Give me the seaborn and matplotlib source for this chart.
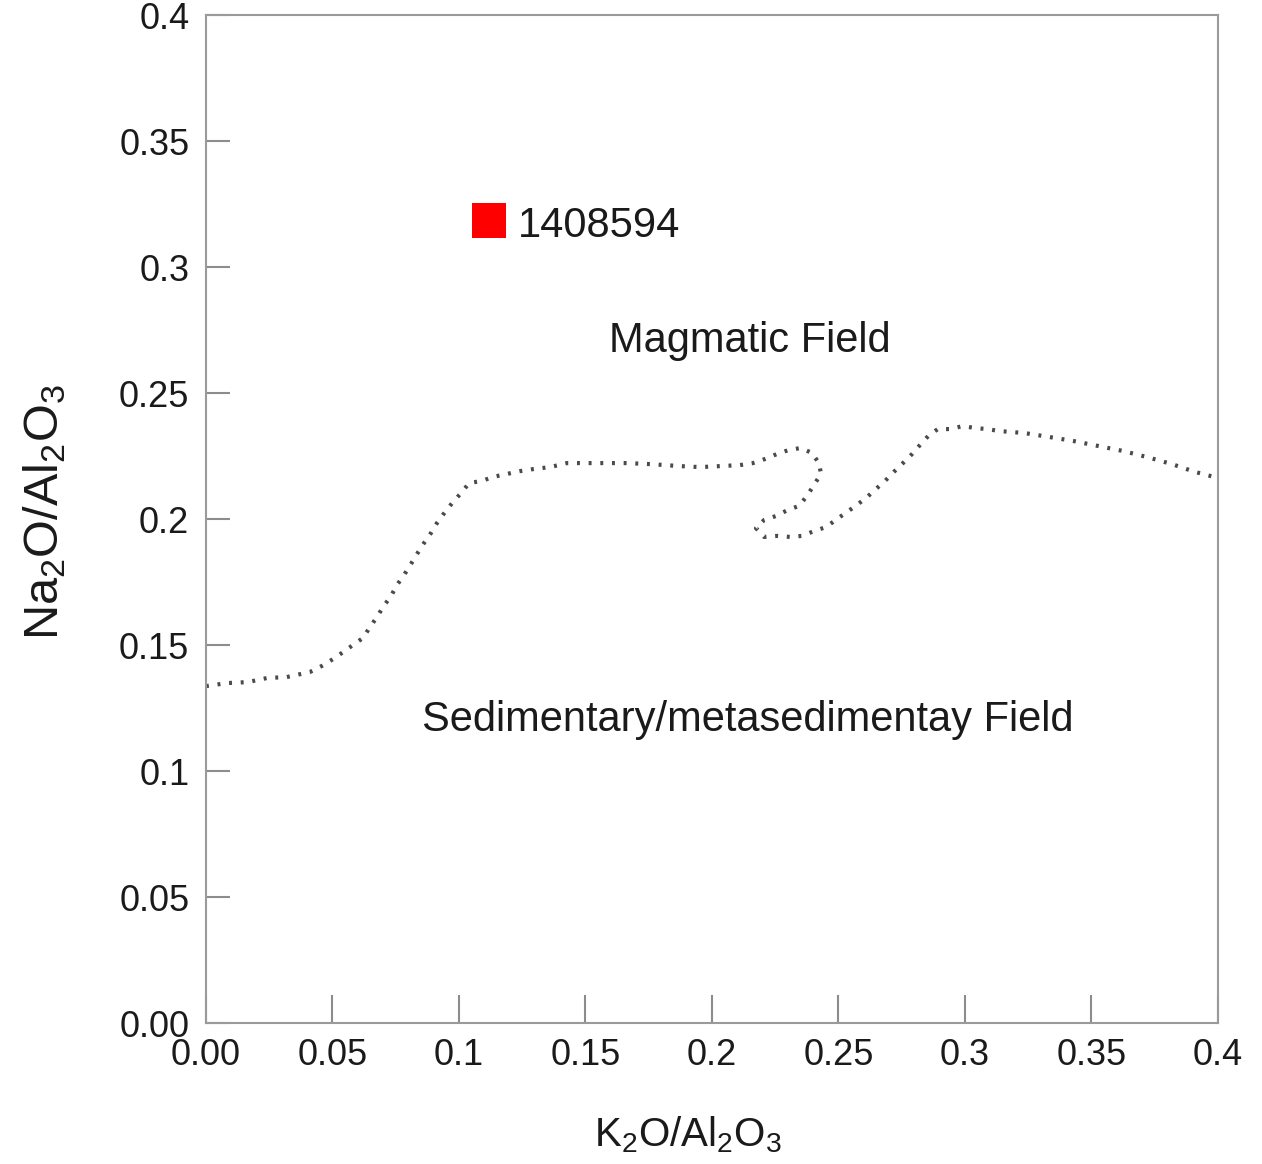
import matplotlib
matplotlib.use("Agg")
import matplotlib.pyplot as plt
import pandas as pd
import seaborn as sns


# boundary between the magmatic and sedimentary fields
boundary_x = [
    0.0, 0.0083, 0.0166, 0.0241, 0.0320, 0.0411, 0.0458, 0.0502, 0.0542, 0.0581,
    0.0621, 0.0648, 0.0676, 0.0700, 0.0731, 0.0755, 0.0783, 0.0810, 0.0834, 0.0862,
    0.0889, 0.0913, 0.0945, 0.0976, 0.1012, 0.1040, 0.1091, 0.1134, 0.1190, 0.1241,
    0.1292, 0.1360, 0.1427, 0.1506, 0.1585, 0.1664, 0.1755, 0.1874, 0.1953, 0.2032,
    0.2111, 0.2162, 0.2209, 0.2257, 0.2304, 0.2352, 0.2395, 0.2423, 0.2431, 0.2403,
    0.2375, 0.2344, 0.2300, 0.2253, 0.2206, 0.2174, 0.2206, 0.2257, 0.2308, 0.2356,
    0.2403, 0.2451, 0.2494, 0.2534, 0.2573, 0.2613, 0.2648, 0.2684, 0.2719, 0.2755,
    0.2791, 0.2826, 0.2858, 0.2893, 0.2941, 0.2992, 0.3040, 0.3087, 0.3138, 0.3237,
    0.3336, 0.3427, 0.3526, 0.3625, 0.3719, 0.3818, 0.3909, 0.4,
]
boundary_y = [
    0.1337, 0.1349, 0.1353, 0.1369, 0.1373, 0.1393, 0.1417, 0.1444, 0.1472, 0.1500,
    0.1528, 0.1571, 0.1611, 0.1651, 0.1694, 0.1738, 0.1778, 0.1821, 0.1861, 0.1905,
    0.1944, 0.1984, 0.2028, 0.2067, 0.2107, 0.2143, 0.2151, 0.2167, 0.2179, 0.2190,
    0.2198, 0.2206, 0.2222, 0.2222, 0.2222, 0.2222, 0.2218, 0.2210, 0.2206, 0.2210,
    0.2214, 0.2222, 0.2238, 0.2258, 0.2274, 0.2282, 0.2262, 0.2222, 0.2179, 0.2135,
    0.2091, 0.2052, 0.2036, 0.2012, 0.1996, 0.1964, 0.1929, 0.1933, 0.1929, 0.1933,
    0.1952, 0.1968, 0.2000, 0.2028, 0.2056, 0.2087, 0.2119, 0.2151, 0.2187, 0.2222,
    0.2258, 0.2298, 0.2333, 0.2357, 0.2357, 0.2369, 0.2361, 0.2357, 0.2349, 0.2341,
    0.2325, 0.2310, 0.2290, 0.2270, 0.2246, 0.2218, 0.2187, 0.2163,
]

sample_names = ["1408594"]
sample_k2o_al2o3 = [0.1119]
sample_na2o_al2o3 = [0.3183]

tick_values = [0.0, 0.05, 0.1, 0.15, 0.2, 0.25, 0.3, 0.35, 0.4]
tick_labels = ["0.00", "0.05", "0.1", "0.15", "0.2", "0.25", "0.3", "0.35", "0.4"]

sns.set_theme(style="white")
plt.rcParams["font.family"] = ["Liberation Sans", "DejaVu Sans"]
plt.rcParams["mathtext.fontset"] = "custom"
plt.rcParams["mathtext.rm"] = "Liberation Sans"
plt.rcParams["mathtext.it"] = "Liberation Sans"

boundary = pd.DataFrame({"x": boundary_x, "y": boundary_y})
samples = pd.DataFrame(
    {"name": sample_names, "x": sample_k2o_al2o3, "y": sample_na2o_al2o3}
)

fig = plt.figure(figsize=(12.62, 11.64), dpi=100)
ax = fig.add_axes([0.1632, 0.1211, 0.8019, 0.8660])

sns.lineplot(
    data=boundary, x="x", y="y", sort=False, estimator=None, ax=ax,
    color="#4a4a4a", linewidth=3, linestyle=(0, (0.7, 2.1)),
)
sns.scatterplot(
    data=samples, x="x", y="y", ax=ax, marker="s", s=630,
    color="#ff0000", edgecolor="none", linewidth=0,
)
for _, row in samples.iterrows():
    ax.text(row["x"] + 0.0115, row["y"] - 0.002, row["name"], fontsize=30,
            ha="left", va="center", color="#1a1a1a")

ax.text(0.215, 0.2706, "Magmatic Field", fontsize=30, ha="center", va="center",
        color="#1a1a1a")
ax.text(0.2142, 0.1202, "Sedimentary/metasedimentay Field", fontsize=30,
        ha="center", va="center", color="#1a1a1a")

ax.set_xlim(0, 0.4)
ax.set_ylim(0, 0.4)
ax.set_xticks(tick_values)
ax.set_xticklabels(tick_labels)
ax.set_yticks(tick_values)
ax.set_yticklabels(tick_labels)
ax.tick_params(axis="x", bottom=True, direction="in", length=20, width=1.5,
               color="#8c8c8c", labelsize=26, pad=11, labelcolor="#1a1a1a")
ax.tick_params(axis="y", left=True, direction="in", length=17, width=1.5,
               color="#8c8c8c", labelsize=26, pad=12, labelcolor="#1a1a1a")

for side in ["left", "right", "top", "bottom"]:
    ax.spines[side].set_visible(True)
    ax.spines[side].set_color("#9a9a9a")
    ax.spines[side].set_linewidth(1.5)

ax.set_xlabel(r"K$_2$O/Al$_2$O$_3$", fontsize=29, color="#1a1a1a")
ax.set_ylabel(r"Na$_2$O/Al$_2$O$_3$", fontsize=35, color="#1a1a1a")
ax.xaxis.set_label_coords(0.476, -0.111)
ax.xaxis.label.set_verticalalignment("center")
ax.yaxis.set_label_coords(-0.159, 0.507)
ax.yaxis.label.set_verticalalignment("center")

fig.savefig("out.png", dpi=100)
plt.close(fig)
